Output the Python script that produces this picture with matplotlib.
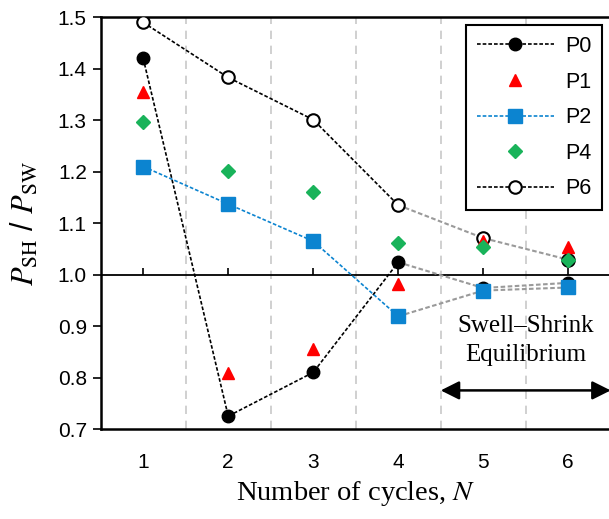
import numpy as np
import matplotlib.pyplot as plt

# cycle numbers and ratio P_SH / P_SW per specimen
cycles = [1, 2, 3, 4, 5, 6]
p0 = [1.42, 0.725, 0.81, 1.024, 0.974, 0.984]
p1 = [1.355, 0.808, 0.855, 0.981, 1.066, 1.054]
p2 = [1.21, 1.137, 1.065, 0.919, 0.969, 0.975]
p4 = [1.296, 1.202, 1.16, 1.062, 1.054, 1.028]
p6 = [1.49, 1.383, 1.301, 1.135, 1.071, 1.029]

y_ticks = [0.7, 0.8, 0.9, 1.0, 1.1, 1.2, 1.3, 1.4, 1.5]
dividers = [1.5, 2.5, 3.5, 4.5, 5.5]

BLUE = "#0c84d0"
RED = "#ff0000"
GREEN = "#19b35a"
GRAY = "#9a9a9a"

plt.rcParams['font.family'] = ['Liberation Sans', 'DejaVu Sans']
plt.rcParams['mathtext.fontset'] = 'stix'

fig = plt.figure(figsize=(6.09, 5.19), dpi=100)
ax = fig.add_axes([0.1654, 0.1734, 0.8374, 0.7933])

ax.set_xlim(0.5, 6.5)
ax.set_ylim(0.7, 1.5)

for d in dividers:
    ax.axvline(d, color="#c8c8c8", lw=1.2, ls=(0, (5, 4)), zorder=0)
ax.axhline(1.0, color="black", lw=1.3, zorder=1)

dash = (0, (2.2, 1.2))
x = np.array(cycles)

# early cycles: coloured dashed lines, equilibrium part: gray dashed lines
ax.plot(x[:4], p6[:4], color="black", lw=1.2, ls=dash, zorder=2)
ax.plot(x[3:], p6[3:], color=GRAY, lw=1.5, ls=dash, zorder=2)
ax.plot(x[:4], p0[:4], color="black", lw=1.2, ls=dash, zorder=2)
ax.plot(x[3:], p0[3:], color=GRAY, lw=1.5, ls=dash, zorder=2)
ax.plot(x[:4], p2[:4], color=BLUE, lw=1.2, ls=dash, zorder=2)
ax.plot(x[3:], p2[3:], color=GRAY, lw=1.5, ls=dash, zorder=2)

h6, = ax.plot(x, p6, ls='none', marker='o', ms=9, mfc='white', mec='black', mew=1.5, zorder=3)
h0, = ax.plot(x, p0, ls='none', marker='o', ms=9, mfc='black', mec='black', zorder=3)
h1, = ax.plot(x, p1, ls='none', marker='^', ms=9, color=RED, zorder=4)
h4, = ax.plot(x, p4, ls='none', marker='D', ms=7.5, color=GREEN, zorder=4)
h2, = ax.plot(x, p2, ls='none', marker='s', ms=9.5, color=BLUE, zorder=5)

# legend proxies with lines through markers
l0, = ax.plot([], [], color="black", lw=1.2, ls=dash, marker='o', ms=9, mfc='black')
l2, = ax.plot([], [], color=BLUE, lw=1.2, ls=dash, marker='s', ms=9.5, mfc=BLUE, mec=BLUE)
l6, = ax.plot([], [], color="black", lw=1.2, ls=dash, marker='o', ms=9, mfc='white', mec='black', mew=1.5)
leg = ax.legend([l0, h1, l2, h4, l6], ["P0", "P1", "P2", "P4", "P6"],
                loc='upper right', bbox_to_anchor=(0.983, 0.981), fontsize=15.5,
                frameon=True, fancybox=False, edgecolor='black', framealpha=1,
                handlelength=3.6, handletextpad=0.5, labelspacing=0.68,
                borderpad=0.5, borderaxespad=0)
leg.get_frame().set_linewidth(1.5)

# equilibrium annotation
ax.annotate("", xy=(4.5, 0.775), xytext=(6.5, 0.775),
            arrowprops=dict(arrowstyle='<|-|>', color='black', lw=1.8,
                            mutation_scale=28, shrinkA=0, shrinkB=0))
ax.text(5.5, 0.872, "Swell\u2013Shrink\nEquilibrium", ha='center', va='center',
        fontsize=18, family='Liberation Serif', linespacing=1.4)

ax.set_xticks(cycles)
ax.set_yticks(y_ticks)
ax.set_yticklabels([f"{v:.1f}" for v in y_ticks])
ax.tick_params(axis='x', length=0, pad=17, labelsize=15)
ax.tick_params(axis='y', length=6, width=1.2, labelsize=15, direction='out', pad=4)

# ticks on the crossing line at 1.0
sec = ax.secondary_xaxis(0.375)
sec.set_xticks(cycles)
sec.tick_params(length=5, width=1.2, direction='in', labeltop=False, labelbottom=False)
sec.spines[:].set_visible(False)

for s in ['left', 'bottom', 'top']:
    ax.spines[s].set_linewidth(1.8)
ax.spines['right'].set_visible(False)

ax.set_ylabel("$P_{\\mathrm{SH}}$ / $P_{\\mathrm{SW}}$", fontsize=22, labelpad=12)
ax.set_xlabel("Number of cycles, $N$", fontsize=20.5, family='Liberation Serif', labelpad=5)

fig.savefig("out.png", dpi=100)
